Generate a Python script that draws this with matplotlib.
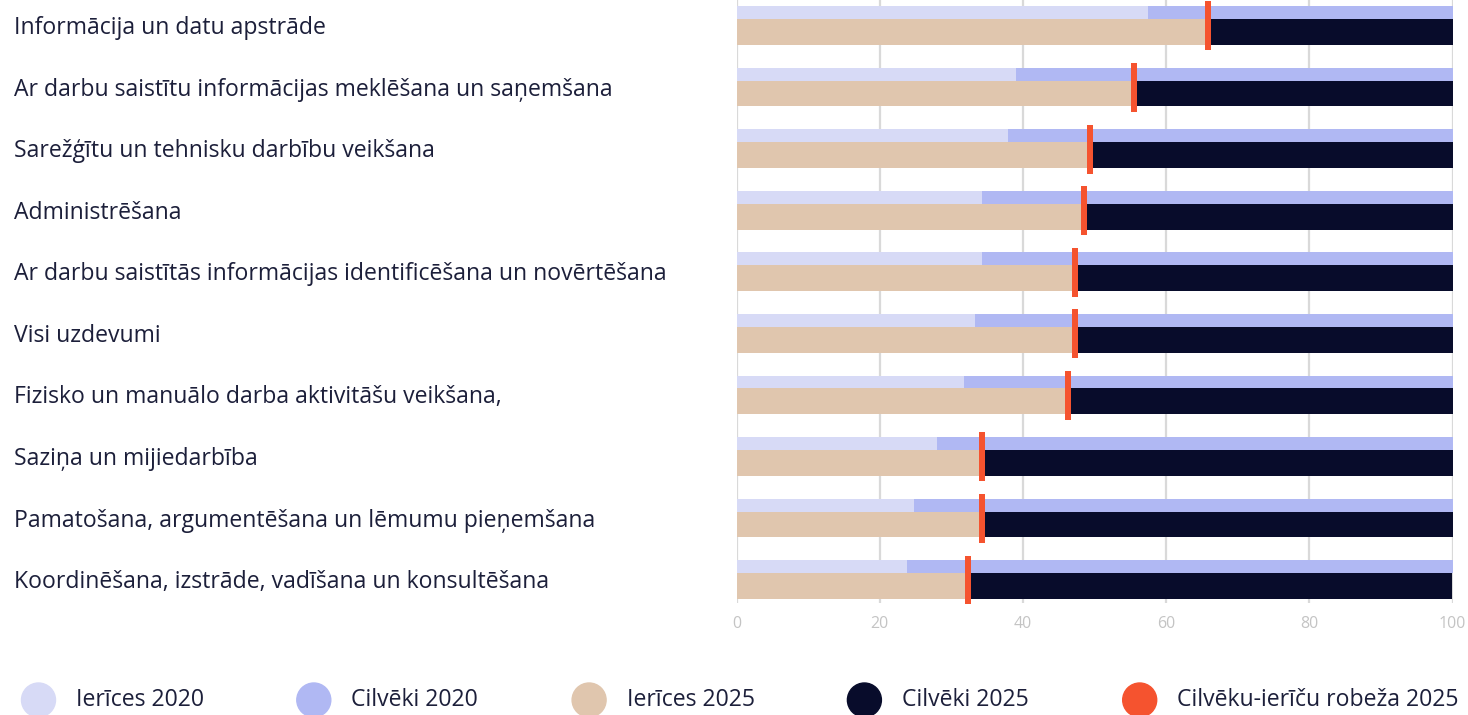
import matplotlib
matplotlib.use("Agg")
import matplotlib.pyplot as plt
from matplotlib.patches import Ellipse
from matplotlib.transforms import blended_transform_factory, offset_copy
import numpy as np

categories = [
    "Informācija un datu apstrāde",
    "Ar darbu saistītu informācijas meklēšana un saņemšana",
    "Sarežģītu un tehnisku darbību veikšana",
    "Administrēšana",
    "Ar darbu saistītās informācijas identificēšana un novērtēšana",
    "Visi uzdevumi",
    "Fizisko un manuālo darba aktivitāšu veikšana,",
    "Saziņa un mijiedarbība",
    "Pamatošana, argumentēšana un lēmumu pieņemšana",
    "Koordinēšana, izstrāde, vadīšana un konsultēšana",
]
devices_2020 = [57.5, 39.0, 37.9, 34.3, 34.3, 33.3, 31.8, 28.0, 24.8, 23.8]
devices_2025 = [65.8, 55.5, 49.4, 48.6, 47.3, 47.3, 46.3, 34.3, 34.3, 32.4]
people_2020 = [100 - v for v in devices_2020]
people_2025 = [100 - v for v in devices_2025]
xticks = [0, 20, 40, 60, 80, 100]
legend_labels = ["Ierīces 2020", "Cilvēki 2020", "Ierīces 2025", "Cilvēki 2025",
                 "Cilvēku-ierīču robeža 2025"]

C_DEV20 = "#d7daf6"
C_PEO20 = "#b0b8f3"
C_DEV25 = "#e0c6ae"
C_PEO25 = "#080c2b"
C_EDGE = "#f5532f"
TEXT = "#1c1f3a"
FONT = "Open Sans"
FS = 16.6

W, H, DPI = 1468, 715, 100
fig = plt.figure(figsize=(W / DPI, H / DPI), dpi=DPI)
ax = fig.add_axes([736.5 / W, (H - 603) / H, (1452.5 - 736.5) / W, 603 / H])

y = np.arange(len(categories))
h20, h25 = 0.21, 0.42
off20, off25 = -0.21, 0.105

ax.barh(y + off20, devices_2020, height=h20, color=C_DEV20, zorder=2)
ax.barh(y + off20, people_2020, left=devices_2020, height=h20, color=C_PEO20, zorder=2)
ax.barh(y + off25, devices_2025, height=h25, color=C_DEV25, zorder=2)
ax.barh(y + off25, people_2025, left=devices_2025, height=h25, color=C_PEO25, zorder=2)
ax.plot(devices_2025, y, linestyle="none", marker="|", markersize=49 * 72 / DPI,
        markeredgewidth=6 * 72 / DPI, color=C_EDGE, zorder=3)

ax.set_xlim(0, 100)
ax.set_ylim(len(categories) - 1 + 0.38, -0.414)
ax.set_xticks(xticks)
ax.set_yticks([])
ax.grid(axis="x", color="#d9d9d9", linewidth=1.6, zorder=0)
for s in ax.spines.values():
    s.set_visible(False)
ax.tick_params(axis="x", length=0, pad=9, labelsize=11.5, labelcolor="#c4c4c4")
for lab in ax.get_xticklabels():
    lab.set_fontfamily(FONT)

label_tr = offset_copy(blended_transform_factory(fig.transFigure, ax.transData),
                       fig=fig, x=0, y=-2.5 * 72 / DPI, units="points")
for i, cat in enumerate(categories):
    ax.text(14 / W, i, cat, transform=label_tr,
            fontsize=FS, fontfamily=FONT, color=TEXT, va="center", ha="left")

legend_colors = [C_DEV20, C_PEO20, C_DEV25, C_PEO25, C_EDGE]
for i, (lab, col) in enumerate(zip(legend_labels, legend_colors)):
    cx = 38.5 + 275.3 * i
    fig.add_artist(Ellipse((cx / W, (H - 700) / H), 34 / W, 34 / H,
                           transform=fig.transFigure, color=col))
    fig.text((76 + 275.3 * i) / W, (H - 700) / H, lab, fontsize=FS, fontfamily=FONT,
             color=TEXT, va="center", ha="left")

fig.savefig("out.png", dpi=DPI)
